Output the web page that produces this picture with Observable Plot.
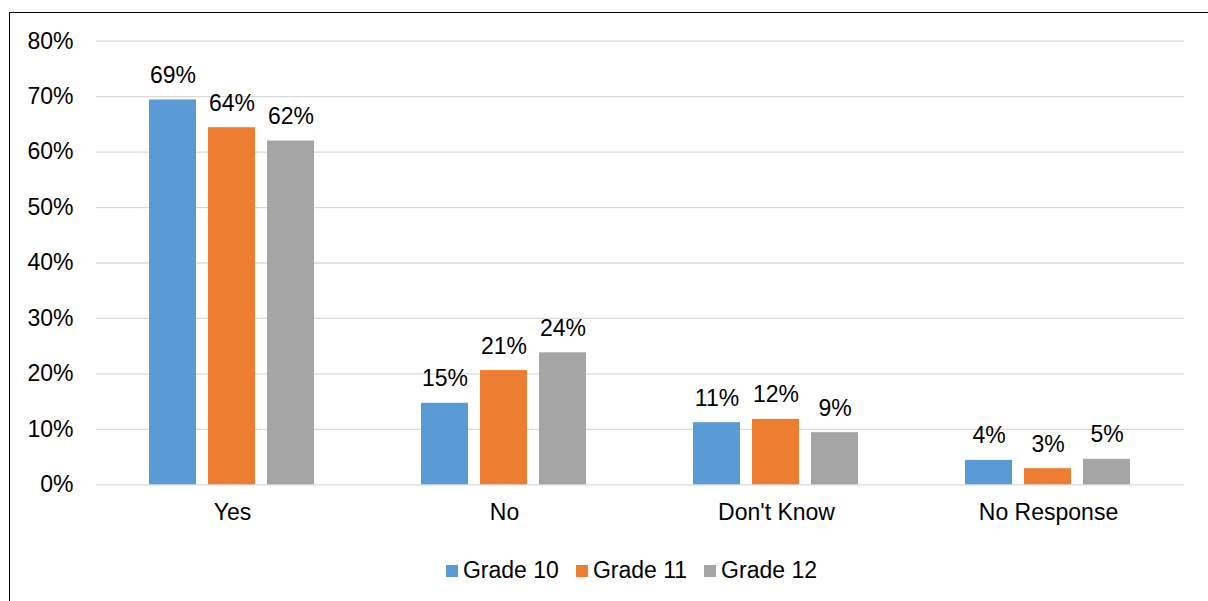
<!DOCTYPE html>
<html>
<head>
<meta charset="utf-8">
<script src="https://cdn.jsdelivr.net/npm/d3@7"></script>
<script src="https://cdn.jsdelivr.net/npm/@observablehq/plot@0.6"></script>
<style>
  html, body { margin: 0; padding: 0; background: #fff; overflow: hidden; }
  body { position: relative; width: 1208px; height: 601px; font-family: "Liberation Sans", Arial, sans-serif; color: #000; }
  #frame { position: absolute; left: 9px; top: 12px; width: 1400px; height: 800px; border: 1.5px solid #000; pointer-events: none; }
  #chart { position: absolute; left: 0; top: 0; }
  #legend { position: absolute; left: 0; top: 559px; width: 1263px; display: flex; justify-content: center; font-size: 23px; line-height: 23px; }
  #legend .item { display: flex; align-items: center; margin: 0 8.5px; }
  #legend .sw { width: 12px; height: 12px; margin-right: 5px; }
</style>
</head>
<body>
<div id="frame"></div>
<div id="chart"></div>
<div id="legend"></div>
<script>
// Survey responses by grade
const categories = ["Yes", "No", "Don't Know", "No Response"];
const grades = ["Grade 10", "Grade 11", "Grade 12"];
const grade10 = [0.694, 0.147, 0.112, 0.044];
const grade11 = [0.644, 0.206, 0.118, 0.029];
const grade12 = [0.620, 0.238, 0.094, 0.046];
const colors = ["#5B9BD5", "#ED7D31", "#A5A5A5"];
const yTicks = [0, 0.1, 0.2, 0.3, 0.4, 0.5, 0.6, 0.7, 0.8];

const series = [grade10, grade11, grade12];
const rows = [];
categories.forEach((cat, i) => {
  grades.forEach((g, j) => rows.push({cat, grade: g, value: series[j][i]}));
});

const pct = v => `${Math.round(v * 100)}%`;

const chart = Plot.plot({
  width: 1208,
  height: 559,
  marginLeft: 96,
  marginRight: 24,
  marginTop: 40.7,
  marginBottom: 74.7,
  style: {fontFamily: '"Liberation Sans", Arial, sans-serif', fontSize: "23px", color: "#000", background: "transparent"},
  fx: {domain: categories, padding: 0, label: null, axis: "bottom", tickSize: 0, tickPadding: 19},
  x: {domain: grades, paddingInner: 0.2, paddingOuter: 0.867, axis: null},
  y: {domain: [0, 0.8], ticks: yTicks, tickFormat: pct, tickSize: 0, tickPadding: 23, label: null},
  color: {domain: grades, range: colors},
  marks: [
    Plot.gridY(yTicks, {stroke: "#D9D9D9", strokeOpacity: 1, strokeWidth: 1.3}),
    Plot.barY(rows, {fx: "cat", x: "grade", y: "value", fill: "grade"}),
    Plot.text(rows, {fx: "cat", x: "grade", y: "value", text: d => pct(d.value), dy: -17, lineAnchor: "bottom", fill: "#000", fontSize: 23})
  ]
});
document.getElementById("chart").appendChild(chart);

// Legend
const legend = document.getElementById("legend");
grades.forEach((g, j) => {
  const item = document.createElement("span");
  item.className = "item";
  const sw = document.createElement("span");
  sw.className = "sw";
  sw.style.background = colors[j];
  item.appendChild(sw);
  item.appendChild(document.createTextNode(g));
  legend.appendChild(item);
});
</script>
</body>
</html>
